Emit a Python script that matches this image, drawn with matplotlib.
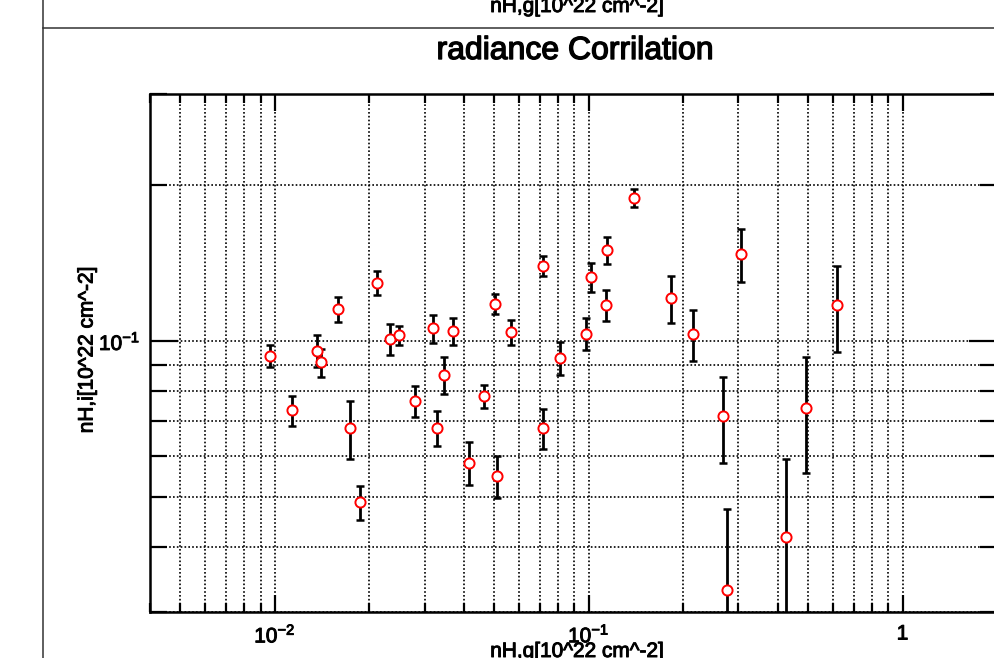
import math
import matplotlib
matplotlib.use("Agg")
import matplotlib.pyplot as plt
import matplotlib.patheffects as pe
from matplotlib.ticker import LogLocator, NullFormatter, FuncFormatter
from matplotlib.lines import Line2D

plt.rcParams['font.family'] = ['Liberation Sans', 'DejaVu Sans']
plt.rcParams['mathtext.fontset'] = 'custom'
plt.rcParams['mathtext.rm'] = 'Liberation Sans'
plt.rcParams['mathtext.it'] = 'Liberation Sans:italic'
plt.rcParams['mathtext.bf'] = 'Liberation Sans:bold'

# ---- data ----
nh_g = [0.00965, 0.01136, 0.01362, 0.01406, 0.01585, 0.01731, 0.01872, 0.0212,
        0.02332, 0.02486, 0.02796, 0.0319, 0.03279, 0.03451, 0.03702, 0.04146,
        0.04638, 0.05017, 0.05114, 0.05655, 0.0715, 0.0715, 0.0808, 0.0979,
        0.1015, 0.1144, 0.1133, 0.1398, 0.1830, 0.2156, 0.2669, 0.2765,
        0.3050, 0.4255, 0.4927, 0.6163]
nh_i = [0.0937, 0.0735, 0.0958, 0.0910, 0.1154, 0.0679, 0.0489, 0.1297,
        0.1009, 0.1027, 0.0767, 0.1059, 0.0679, 0.0861, 0.1046, 0.0583,
        0.0782, 0.1181, 0.0549, 0.1040, 0.1395, 0.0679, 0.0927, 0.1034,
        0.1328, 0.1499, 0.1174, 0.1892, 0.1211, 0.1032, 0.0717, 0.0331,
        0.1475, 0.0419, 0.0744, 0.1174]
nh_i_err = [0.0046, 0.00485, 0.00675, 0.0056, 0.0065, 0.00865, 0.00365, 0.0070,
            0.0069, 0.0043, 0.0052, 0.0066, 0.00525, 0.0069, 0.0064, 0.00565,
            0.00395, 0.0051, 0.00515, 0.00585, 0.0062, 0.00595, 0.00685, 0.00735,
            0.00855, 0.00925, 0.0080, 0.0074, 0.01265, 0.0115, 0.0134, 0.0143,
            0.01715, 0.0172, 0.01885, 0.02205]

x_limits = (0.004, 2.0)
y_limits = (0.03, 0.3)
title = "radiance Corrilation"
xlabel = "nH,g[10^22 cm^-2]"
ylabel = "nH,i[10^22 cm^-2]"

W, H = 994, 658
fig = plt.figure(figsize=(W / 100, H / 100), dpi=100)

heavy = [pe.withStroke(linewidth=0.7, foreground='black')]
heavy_big = [pe.withStroke(linewidth=1.0, foreground='black')]

# axes placed in pixel coordinates (right edge slightly beyond the image, as in the reference)
L, R, T, B = 150, 997, 94, 612
ax = fig.add_axes([L / W, 1 - B / H, (R - L) / W, (B - T) / H])
ax.set_xscale('log')
ax.set_yscale('log')
ax.set_xlim(*x_limits)
ax.set_ylim(*y_limits)

ax.errorbar(nh_g, nh_i, yerr=nh_i_err, fmt='none', ecolor='black',
            elinewidth=2.0, capsize=3.0, capthick=1.8, zorder=3)
ax.plot(nh_g, nh_i, linestyle='none', marker='o', markersize=7.3,
        markerfacecolor='white', markeredgecolor='red', markeredgewidth=1.4,
        zorder=4)

# ticks
ax.xaxis.set_major_locator(LogLocator(base=10, numticks=20))
ax.xaxis.set_minor_locator(LogLocator(base=10, subs=range(2, 10), numticks=20))
ax.yaxis.set_major_locator(LogLocator(base=10, numticks=20))
ax.yaxis.set_minor_locator(LogLocator(base=10, subs=range(2, 10), numticks=20))

def fmt(v, pos):
    e = int(round(math.log10(v)))
    if e == 0:
        return "1"
    return r"$10^{%d}$" % e

ax.xaxis.set_major_formatter(FuncFormatter(fmt))
ax.yaxis.set_major_formatter(FuncFormatter(fmt))
ax.xaxis.set_minor_formatter(NullFormatter())
ax.yaxis.set_minor_formatter(NullFormatter())

ax.tick_params(which='both', direction='in', top=True, right=True, width=1.6,
               colors='black', labelsize=15)
ax.tick_params(axis='x', which='major', length=12.2, pad=9)
ax.tick_params(axis='x', which='minor', length=6.5)
ax.tick_params(axis='y', which='major', length=20, pad=7)
ax.tick_params(axis='y', which='minor', length=12.2)
for lab in ax.get_xticklabels() + ax.get_yticklabels():
    lab.set_path_effects(heavy)

ax.grid(True, which='both', color='black', linestyle=(0, (1, 1.3)), linewidth=1.2)
ax.set_axisbelow(True)
for s in ax.spines.values():
    s.set_linewidth(1.8)
    s.set_color('black')

# texts
fig.text(((L + R) / 2 + 2) / W, 1 - 59 / H, title, ha='center', va='baseline',
         fontsize=23, path_effects=heavy_big)
fig.text(87 / W, 1 - 350 / H, ylabel, rotation=90, ha='center', va='center',
         fontsize=15, path_effects=heavy)
fig.text(577 / W, 1 - 657 / H, xlabel, ha='center', va='baseline', fontsize=15,
         path_effects=heavy)
fig.text(577 / W, 1 - 12 / H, xlabel, ha='center', va='baseline', fontsize=15,
         path_effects=heavy)

# frame lines of the surrounding panels
fig.add_artist(Line2D([43 / W, 43 / W], [0, 1], transform=fig.transFigure,
                      color='#333333', linewidth=1.1))
fig.add_artist(Line2D([43 / W, 1], [1 - 28 / H, 1 - 28 / H], transform=fig.transFigure,
                      color='#333333', linewidth=1.1))

fig.savefig("out.png", dpi=100)
